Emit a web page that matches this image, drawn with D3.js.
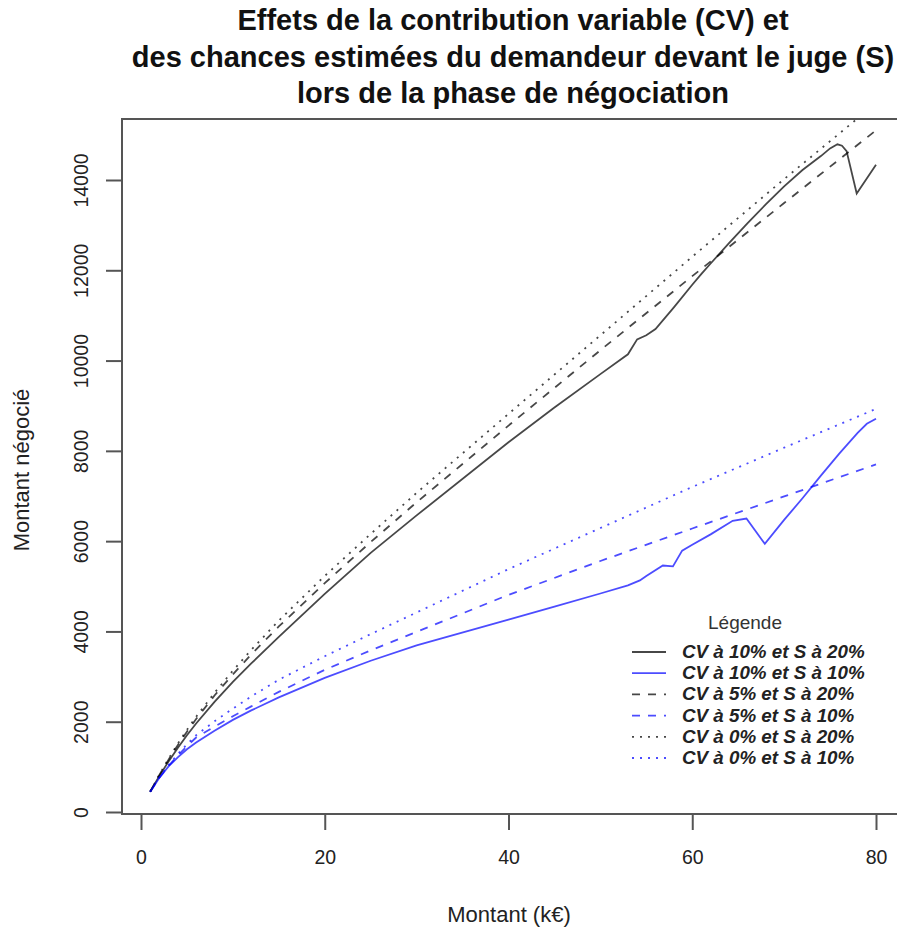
<!DOCTYPE html>
<html>
<head>
<meta charset="utf-8">
<script src="https://cdn.jsdelivr.net/npm/d3@7"></script>
<style>
  body { margin: 0; background: #fff; }
  text { font-family: "Liberation Sans", Arial, sans-serif; }
</style>
</head>
<body>
<div id="chart"></div>
<script>
// montants (k€) communs aux courbes lisses
let amounts = [1, 2, 3, 4, 5, 6, 8, 10, 12, 15, 20, 25, 30, 40, 50, 60, 70, 80];

// S à 20%
let cv0s20 = [450, 830, 1180, 1510, 1820, 2110, 2640, 3130, 3590, 4240, 5230, 6160, 7070, 8820, 10560, 12300, 14020, 15700];
let cv5s20 = [450, 820, 1160, 1480, 1780, 2060, 2580, 3050, 3490, 4110, 5070, 5980, 6860, 8560, 10230, 11870, 13490, 15100];
let cv10s20x = [1, 2, 3, 4, 5, 6, 8, 10, 12, 15, 20, 25, 30, 40, 45, 50, 53, 54, 55, 56, 58, 60, 61, 62, 64, 66, 68, 70, 72, 74, 75, 75.8, 76.3, 76.8, 77.9, 80];
let cv10s20 = [450, 800, 1120, 1420, 1700, 1960, 2440, 2880, 3290, 3880, 4830, 5740, 6570, 8190, 8960, 9700, 10140, 10470, 10560, 10700, 11180, 11680, 11920, 12150, 12600, 13040, 13460, 13860, 14220, 14530, 14700, 14790, 14760, 14640, 13700, 14340];

// S à 10%
let cv0s10 = [450, 770, 1040, 1280, 1500, 1700, 2010, 2290, 2560, 2930, 3450, 3940, 4420, 5380, 6290, 7200, 8070, 8930];
let cv5s10 = [450, 760, 1020, 1250, 1460, 1650, 1890, 2120, 2340, 2660, 3150, 3580, 3990, 4810, 5560, 6280, 6990, 7700];
let cv10s10x = [1, 2, 3, 4, 5, 6, 8, 10, 12, 15, 20, 25, 30, 40, 45, 50, 53, 54.3, 55, 56.8, 57.9, 58.9, 60, 62, 64.4, 65.9, 67.9, 70, 72, 74, 76, 78, 79, 80];
let cv10s10 = [450, 760, 1010, 1210, 1390, 1540, 1800, 2040, 2250, 2540, 2970, 3350, 3690, 4260, 4550, 4840, 5020, 5130, 5230, 5460, 5440, 5790, 5920, 6150, 6450, 6500, 5940, 6470, 6950, 7450, 7940, 8400, 8600, 8710];

let labels = ["CV à 10% et S à 20%", "CV à 10% et S à 10%", "CV à 5% et S à 20%",
              "CV à 5% et S à 10%", "CV à 0% et S à 20%", "CV à 0% et S à 10%"];
let xTicks = [0, 20, 40, 60, 80];
let yTicks = [0, 2000, 4000, 6000, 8000, 10000, 12000, 14000];

let black = "rgba(0,0,0,0.72)";
let blue = "rgba(0,0,255,0.7)";
let dashes = { solid: null, dashed: "8,8", dotted: "2,6" };

let series = [
  { xs: cv10s20x, ys: cv10s20, color: black, lty: "solid" },
  { xs: cv10s10x, ys: cv10s10, color: blue, lty: "solid" },
  { xs: amounts, ys: cv5s20, color: black, lty: "dashed" },
  { xs: amounts, ys: cv5s10, color: blue, lty: "dashed" },
  { xs: amounts, ys: cv0s20, color: black, lty: "dotted" },
  { xs: amounts, ys: cv0s10, color: blue, lty: "dotted" }
];

let width = 897, height = 929;
let plot = { left: 122, top: 119, right: 912, bottom: 814 };

let svg = d3.select("#chart").append("svg")
  .attr("width", width)
  .attr("height", height);

svg.append("rect").attr("width", width).attr("height", height).attr("fill", "#fff");

let x = d3.scaleLinear().domain([0, 80]).range([141, 876]);
let y = d3.scaleLinear().domain([0, 14000]).range([812, 180]);

svg.append("clipPath").attr("id", "clip")
  .append("rect")
  .attr("x", plot.left).attr("y", plot.top)
  .attr("width", plot.right - plot.left).attr("height", plot.bottom - plot.top);

let line = d3.line()
  .x((d) => x(d[0]))
  .y((d) => y(d[1]));

let g = svg.append("g").attr("clip-path", "url(#clip)");
series.forEach(function (s) {
  g.append("path")
    .datum(s.xs.map((v, i) => [v, s.ys[i]]))
    .attr("d", line)
    .attr("fill", "none")
    .attr("stroke", s.color)
    .attr("stroke-width", 1.8)
    .attr("stroke-dasharray", dashes[s.lty]);
});

// cadre
svg.append("rect")
  .attr("x", plot.left).attr("y", plot.top)
  .attr("width", plot.right - plot.left).attr("height", plot.bottom - plot.top)
  .attr("fill", "none")
  .attr("stroke", "#555")
  .attr("stroke-width", 2);

// axes
let xAxis = svg.append("g")
  .attr("transform", "translate(0," + plot.bottom + ")")
  .call(d3.axisBottom(x).tickValues(xTicks).tickSize(16).tickPadding(20).tickSizeOuter(0));
xAxis.select(".domain").remove();

let yAxis = svg.append("g")
  .attr("transform", "translate(" + plot.left + ",0)")
  .call(d3.axisLeft(y).tickValues(yTicks).tickSize(16).tickFormat(d3.format("d")).tickSizeOuter(0));
yAxis.select(".domain").remove();
yAxis.selectAll("text")
  .attr("x", null).attr("dy", null)
  .attr("text-anchor", "middle")
  .attr("transform", "translate(-34,0) rotate(-90)");

svg.selectAll(".tick line").attr("stroke", "#555").attr("stroke-width", 2);
svg.selectAll(".tick text")
  .attr("fill", "#222")
  .style("font-family", "'Liberation Sans', Arial, sans-serif")
  .style("font-size", "19.5px");

// titres
let title = ["Effets de la contribution variable (CV) et",
             "des chances estimées du demandeur devant le juge (S)",
             "lors de la phase de négociation"];
svg.append("g").selectAll("text")
  .data(title)
  .enter()
  .append("text")
  .attr("x", 513)
  .attr("y", (d, i) => 30 + i * 36.5)
  .attr("text-anchor", "middle")
  .style("font-weight", "bold")
  .style("font-size", "29px")
  .attr("fill", "#111")
  .text((d) => d);

svg.append("text")
  .attr("x", 509).attr("y", 922)
  .attr("text-anchor", "middle")
  .style("font-size", "22px")
  .attr("fill", "#222")
  .text("Montant (k€)");

svg.append("text")
  .attr("transform", "translate(29,470) rotate(-90)")
  .attr("text-anchor", "middle")
  .style("font-size", "22px")
  .attr("fill", "#222")
  .text("Montant négocié");

// légende
let legend = svg.append("g");
legend.append("text")
  .attr("x", 745).attr("y", 629)
  .attr("text-anchor", "middle")
  .style("font-size", "19px")
  .attr("fill", "#333")
  .text("Légende");

let rows = legend.selectAll("g.row")
  .data(series)
  .enter()
  .append("g")
  .attr("class", "row")
  .attr("transform", (d, i) => "translate(0," + (652 + i * 21.2) + ")");

rows.append("line")
  .attr("x1", 632).attr("x2", 666)
  .attr("stroke", (d) => d.color)
  .attr("stroke-width", 1.8)
  .attr("stroke-dasharray", (d) => dashes[d.lty]);

rows.append("text")
  .attr("x", 682).attr("y", 6)
  .style("font-size", "18.8px")
  .style("font-weight", "bold")
  .style("font-style", "italic")
  .attr("fill", "#222")
  .text((d, i) => labels[i]);
</script>
</body>
</html>
